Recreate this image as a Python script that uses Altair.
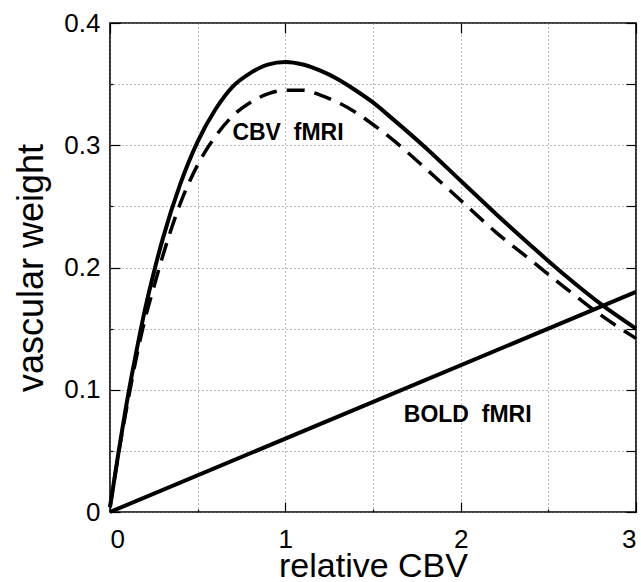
import altair as alt
import pandas as pd

# ---- data ----
x_vals = [0, 0.05, 0.1, 0.15, 0.2, 0.25, 0.3, 0.4, 0.5, 0.6, 0.7, 0.8, 0.9,
          1.0, 1.1, 1.2, 1.3, 1.4, 1.5, 1.6, 1.8, 2.0, 2.2, 2.4, 2.6, 2.8, 3.0]
cbv_solid = [0.004, 0.050, 0.093, 0.131, 0.166, 0.196, 0.223, 0.268, 0.303, 0.329,
             0.348, 0.359, 0.366, 0.368, 0.366, 0.361, 0.354, 0.345, 0.335, 0.323,
             0.298, 0.271, 0.244, 0.218, 0.193, 0.170, 0.150]
cbv_dashed = [0.004, 0.049, 0.089, 0.126, 0.158, 0.184, 0.209, 0.252, 0.284, 0.307,
              0.324, 0.335, 0.342, 0.345, 0.345, 0.341, 0.335, 0.327, 0.317, 0.306,
              0.281, 0.255, 0.229, 0.206, 0.183, 0.161, 0.142]
bold_x = [0, 3]
bold_y = [0, 0.18]

grid_x = [0, 0.5, 1, 1.5, 2, 2.5, 3]
grid_y = [0, 0.05, 0.1, 0.15, 0.2, 0.25, 0.3, 0.35, 0.4]
major_x = [0, 1, 2, 3]
major_y = [0, 0.1, 0.2, 0.3, 0.4]
minor_x = [0.5, 1.5, 2.5]
minor_y = [0.05, 0.15, 0.25, 0.35]

label_text = ["CBV\u00a0\u00a0fMRI", "BOLD\u00a0\u00a0fMRI"]
label_x = [1.015, 2.04]
label_y = [0.31, 0.0795]

FONT = "Liberation Sans"

df_curve = pd.DataFrame({"x": x_vals, "solid": cbv_solid, "dashed": cbv_dashed})
df_bold = pd.DataFrame({"x": bold_x, "y": bold_y})
df_lab = pd.DataFrame({"x": label_x, "y": label_y, "t": label_text})

xs = alt.Scale(domain=[0, 3], nice=False, zero=False)
ys = alt.Scale(domain=[0, 0.4], nice=False, zero=False)

x_main = alt.X("x:Q", scale=xs, axis=alt.Axis(
    orient="bottom", title="relative CBV", values=grid_x,
    labelExpr="datum.value % 1 == 0 ? format(datum.value, '~g') : ''",
    grid=True, gridDash=[1, 3], gridColor="#777", gridWidth=1,
    ticks=False, domain=False, labelFont=FONT, labelFontSize=26,
    labelColor="black", labelPadding=14, titleFont=FONT, titleFontSize=34,
    titleFontWeight="normal", titleColor="black", titlePadding=-3))
y_main = alt.Y("solid:Q", scale=ys, axis=alt.Axis(
    orient="left", title="vascular weight", values=grid_y,
    labelExpr="abs(round(datum.value*10) - datum.value*10) < 0.001 ? format(datum.value, '~g') : ''",
    grid=True, gridDash=[1, 3], gridColor="#777", gridWidth=1,
    ticks=False, domain=False, labelFont=FONT, labelFontSize=26,
    labelColor="black", labelPadding=10, titleFont=FONT, titleFontSize=36,
    titleFontWeight="normal", titleColor="black", titlePadding=13))

solid = alt.Chart(df_curve).mark_line(color="black", strokeWidth=4,
                                      interpolate="monotone").encode(x=x_main, y=y_main)
dashed = alt.Chart(df_curve).mark_line(color="black", strokeWidth=3.5,
                                       strokeDash=[18, 10], interpolate="monotone").encode(
    x=alt.X("x:Q", axis=None), y=alt.Y("dashed:Q", axis=None))
bold = alt.Chart(df_bold).mark_line(color="black", strokeWidth=4).encode(
    x=alt.X("x:Q", axis=None), y=alt.Y("y:Q", axis=None))
labels = alt.Chart(df_lab).mark_text(font=FONT, fontSize=23, fontWeight="bold",
                                     color="black", align="center", baseline="middle").encode(
    x=alt.X("x:Q", axis=None), y=alt.Y("y:Q", axis=None), text="t:N")


def tick_axis(orient, values, size):
    return alt.Axis(orient=orient, title="", labels=False, domain=False, grid=False,
                    ticks=True, tickSize=size, offset=-size, tickColor="black",
                    tickWidth=1.2, values=values)


def tick_layer(xo, xv, yo, yv, size):
    return alt.Chart(df_bold).mark_point(opacity=0).encode(
        x=alt.X("x:Q", scale=xs, axis=tick_axis(xo, xv, size)),
        y=alt.Y("y:Q", scale=ys, axis=tick_axis(yo, yv, size)))


ticks_major_bl = tick_layer("bottom", major_x, "left", major_y, 10)
ticks_major_tr = tick_layer("top", major_x, "right", grid_y, 10)
ticks_minor_bl = tick_layer("bottom", minor_x, "left", minor_y, 3)

chart = alt.layer(solid, dashed, bold, labels,
                  ticks_major_bl, ticks_major_tr, ticks_minor_bl).resolve_axis(
    x="independent", y="independent"
).properties(
    width=526, height=489,
    autosize=alt.AutoSizeParams(type="none"),
    padding={"left": 110, "top": 23, "right": 5, "bottom": 70},
    background="white",
).configure_view(stroke="black", strokeWidth=1.6)

chart.save("out.html", embed_options={"renderer": "svg", "actions": False})
